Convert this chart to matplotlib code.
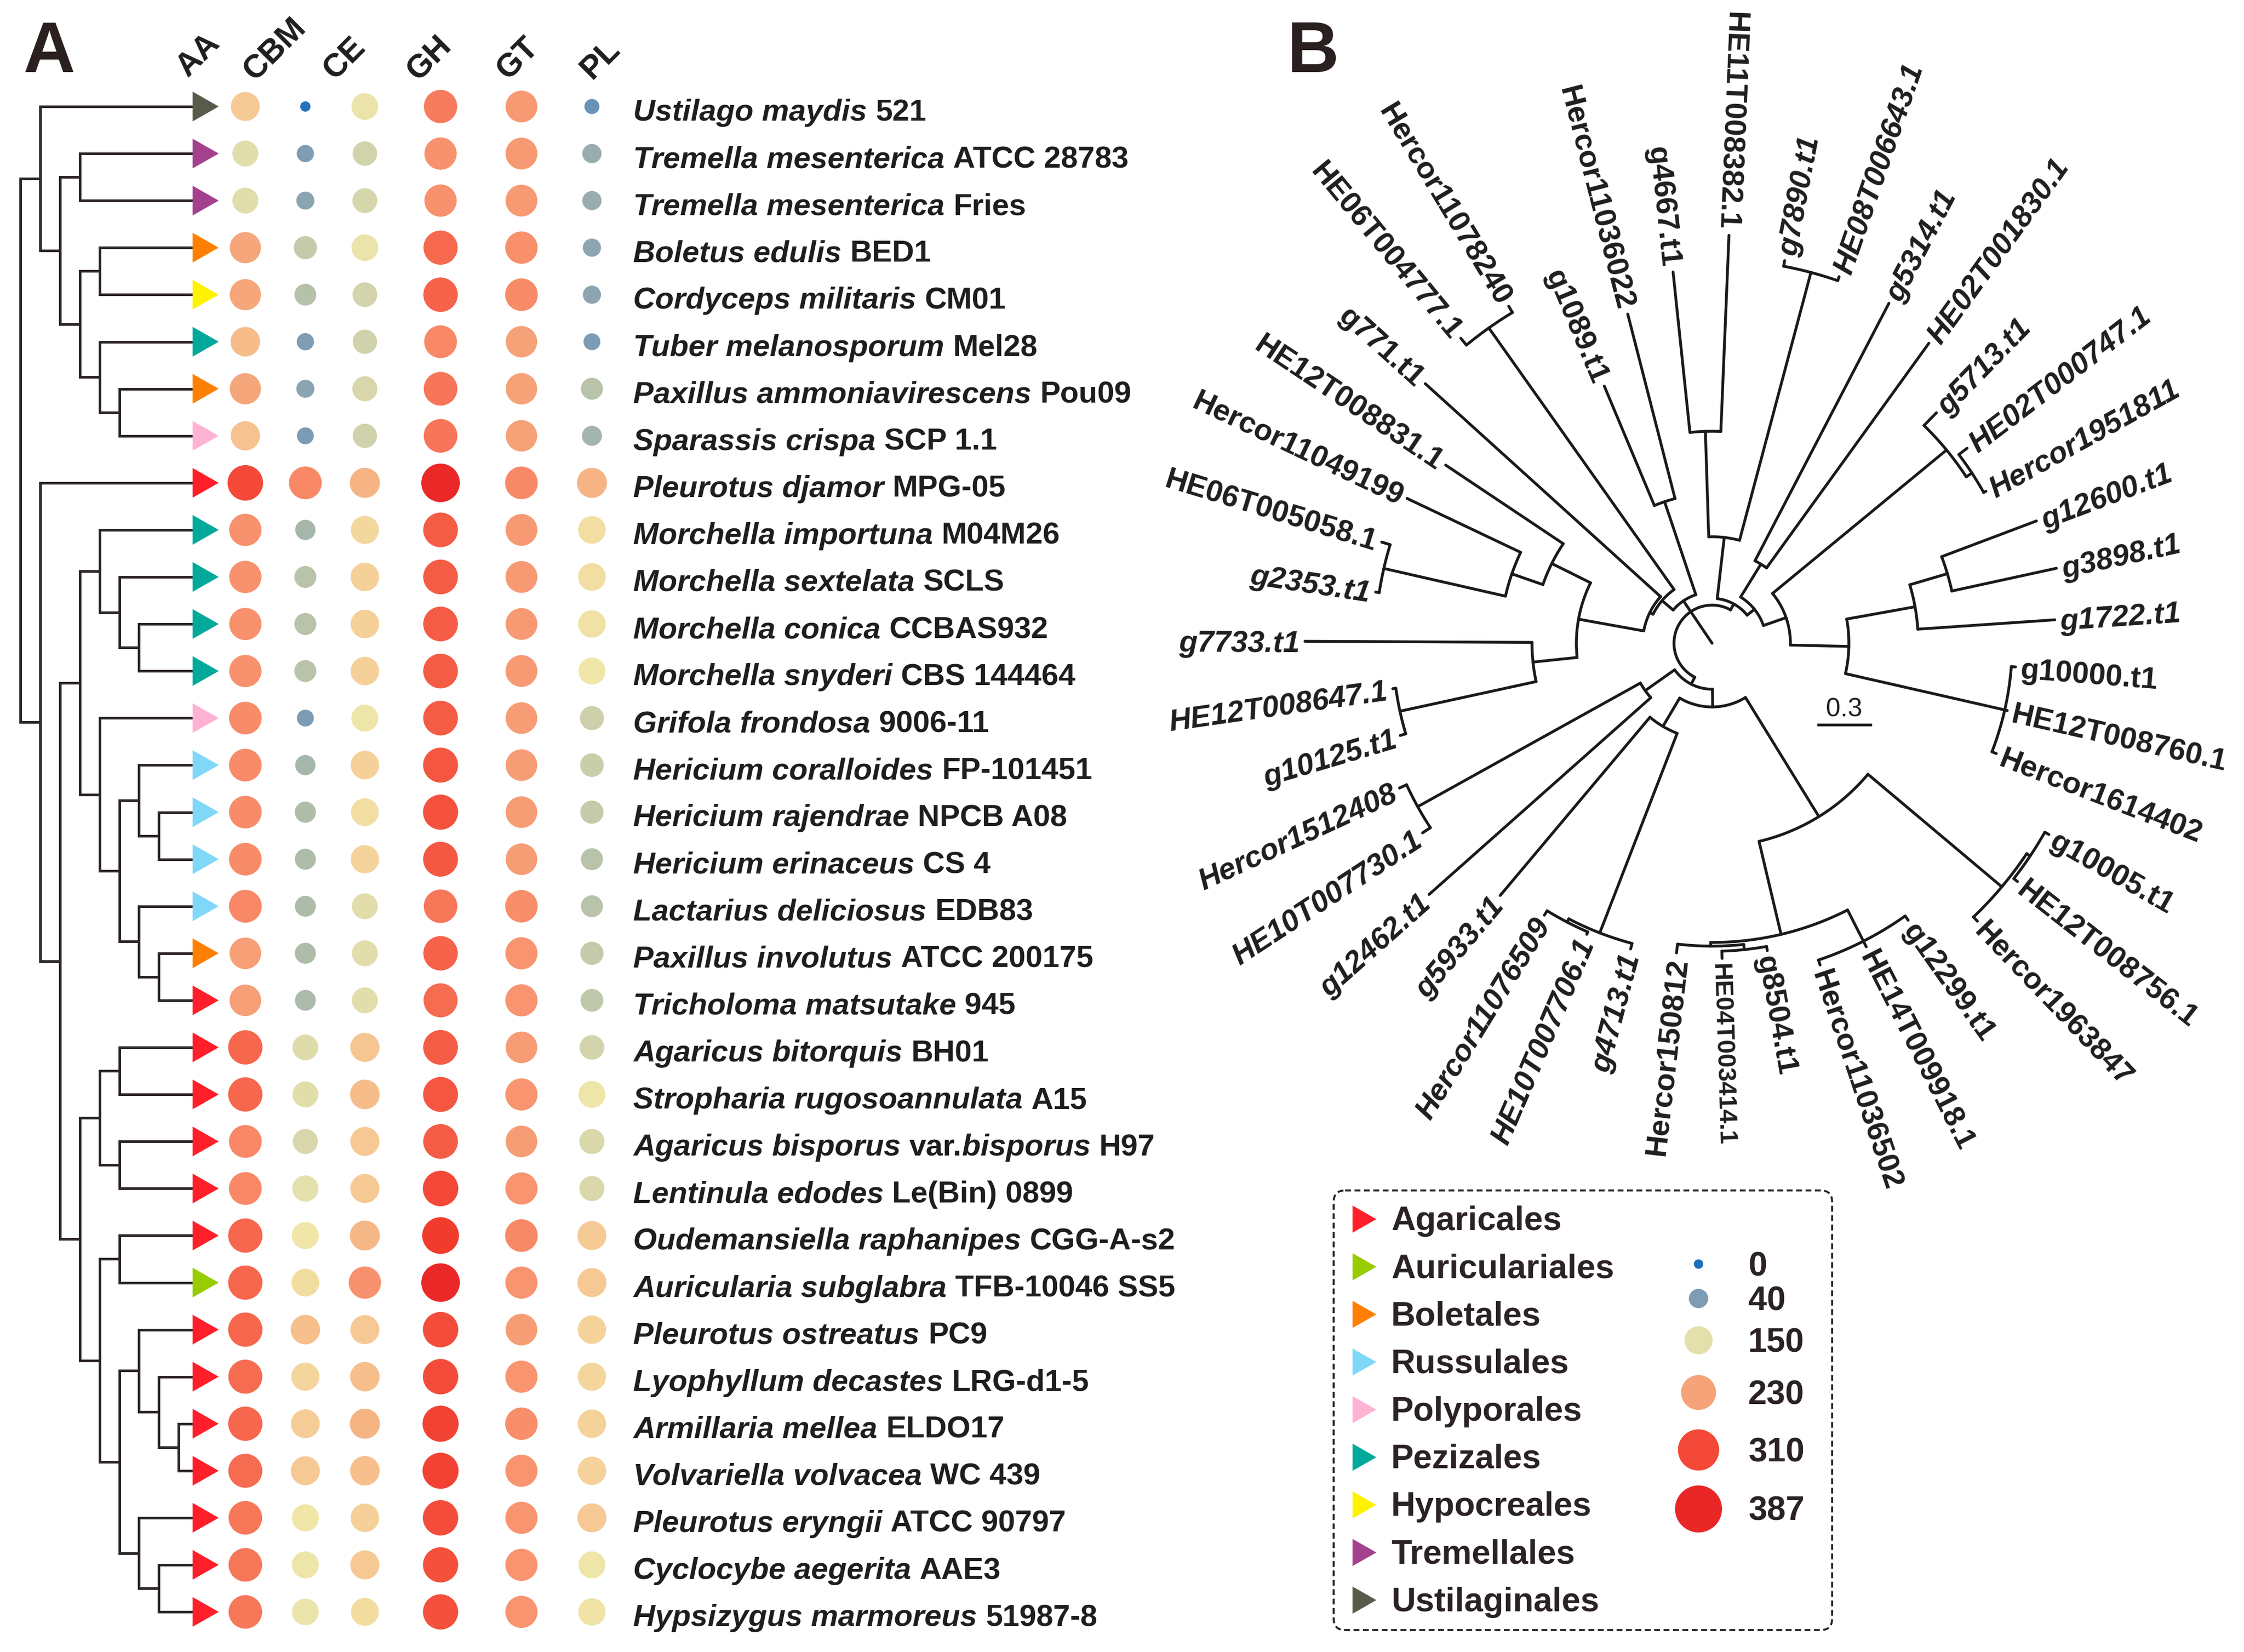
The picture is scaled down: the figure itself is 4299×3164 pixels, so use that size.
import numpy as np
import matplotlib
matplotlib.use('Agg')
import matplotlib.pyplot as plt
from matplotlib.colors import LinearSegmentedColormap
from matplotlib.patches import FancyBboxPatch

plt.rcParams['font.family'] = ['Liberation Sans', 'DejaVu Sans']

W, H, DPI = 4299, 3164, 300
PT = 72.0 / DPI

# ---------------- data: panel A ----------------
species = [
    "*Ustilago maydis* 521", "*Tremella mesenterica* ATCC 28783", "*Tremella mesenterica* Fries",
    "*Boletus edulis* BED1", "*Cordyceps militaris* CM01", "*Tuber melanosporum* Mel28",
    "*Paxillus ammoniavirescens* Pou09", "*Sparassis crispa* SCP 1.1", "*Pleurotus djamor* MPG-05",
    "*Morchella importuna* M04M26", "*Morchella sextelata* SCLS", "*Morchella conica* CCBAS932",
    "*Morchella snyderi* CBS 144464", "*Grifola frondosa* 9006-11", "*Hericium coralloides* FP-101451",
    "*Hericium rajendrae* NPCB A08", "*Hericium erinaceus* CS 4", "*Lactarius deliciosus* EDB83",
    "*Paxillus involutus* ATCC 200175", "*Tricholoma matsutake* 945", "*Agaricus bitorquis* BH01",
    "*Stropharia rugosoannulata* A15", "*Agaricus bisporus* var.*bisporus* H97",
    "*Lentinula edodes* Le(Bin) 0899", "*Oudemansiella raphanipes* CGG-A-s2",
    "*Auricularia subglabra* TFB-10046 SS5", "*Pleurotus ostreatus* PC9",
    "*Lyophyllum decastes* LRG-d1-5", "*Armillaria mellea* ELDO17", "*Volvariella volvacea* WC 439",
    "*Pleurotus eryngii* ATCC 90797", "*Cyclocybe aegerita* AAE3", "*Hypsizygus marmoreus* 51987-8",
]
orders = (["Ustilaginales", "Tremellales", "Tremellales", "Boletales", "Hypocreales", "Pezizales",
           "Boletales", "Polyporales", "Agaricales", "Pezizales", "Pezizales", "Pezizales", "Pezizales",
           "Polyporales", "Russulales", "Russulales", "Russulales", "Russulales", "Boletales",
           "Agaricales", "Agaricales", "Agaricales", "Agaricales", "Agaricales", "Agaricales",
           "Auriculariales"] + ["Agaricales"] * 7)

columns = ["AA", "CBM", "CE", "GH", "GT", "PL"]
AA = [195, 148, 148, 228, 228, 205, 228, 200, 310, 248, 248, 248, 248, 255, 255, 255, 255, 258, 235, 235,
      287, 287, 258, 258, 287, 287, 287, 282, 287, 282, 273, 273, 273]
CBM = [2, 40, 50, 115, 98, 40, 50, 38, 258, 78, 100, 100, 100, 38, 78, 90, 88, 87, 88, 85,
       145, 148, 137, 152, 165, 176, 203, 183, 193, 196, 165, 163, 160]
CE = [160, 130, 135, 160, 133, 128, 137, 128, 212, 182, 188, 188, 188, 163, 188, 175, 185, 148, 148, 148,
      198, 205, 196, 196, 210, 248, 196, 203, 212, 203, 188, 196, 178]
GH = [268, 248, 248, 285, 290, 258, 275, 275, 385, 295, 295, 295, 295, 295, 300, 303, 298, 273, 290, 282,
      295, 300, 295, 310, 340, 385, 308, 308, 325, 325, 308, 305, 305]
GT = [240, 240, 240, 250, 255, 232, 232, 232, 256, 240, 240, 240, 240, 236, 236, 236, 236, 252, 246, 246,
      236, 246, 236, 246, 256, 246, 236, 246, 252, 246, 246, 246, 246]
PL = [28, 65, 65, 52, 52, 38, 100, 75, 212, 175, 175, 172, 165, 125, 120, 115, 100, 100, 115, 110,
      132, 163, 138, 138, 195, 196, 186, 183, 186, 186, 196, 163, 170]
values = [AA, CBM, CE, GH, GT, PL]

# cladogram topology (leaf indices)
tree_A = [[0, [[1, 2], [[3, 4], [5, [6, 7]]]]],
          [8, [[[9, [10, [11, 12]]], [13, [[14, [15, 16]], [17, [18, 19]]]]],
               [[[20, 21], [22, 23]], [[24, 25], [[26, [27, [28, 29]]], [30, [31, 32]]]]]]]]

order_names = ["Agaricales", "Auriculariales", "Boletales", "Russulales", "Polyporales",
               "Pezizales", "Hypocreales", "Tremellales", "Ustilaginales"]
order_colors = ["#FF1F2B", "#99CC00", "#FF8000", "#80D8F8", "#FFB3D4",
                "#00A99A", "#FFF200", "#A4418E", "#595A4A"]
legend_values = [0, 40, 150, 230, 310, 387]

# ---------------- data: panel B ----------------
leaf_names_B = [
    "g10005.t1", "HE12T008756.1", "Hercor1963847", "g12299.t1", "HE14T009918.1", "Hercor11036502",
    "g8504.t1", "HE04T003414.1", "Hercor150812", "g4713.t1", "HE10T007706.1", "Hercor11076509",
    "g5933.t1", "g12462.t1", "HE10T007730.1", "Hercor1512408", "g10125.t1", "HE12T008647.1",
    "g7733.t1", "g2353.t1", "HE06T005058.1", "Hercor11049199", "HE12T008831.1", "g771.t1",
    "HE06T004777.1", "Hercor11078240", "g1089.t1", "Hercor11036022", "g4667.t1", "HE11T008382.1",
    "g7890.t1", "HE08T006643.1", "g5314.t1", "HE02T001830.1", "g5713.t1", "HE02T000747.1",
    "Hercor1951811", "g12600.t1", "g3898.t1", "g1722.t1", "g10000.t1", "HE12T008760.1",
    "Hercor1614402",
]
tip_r_B = [742, 742, 736, 650, 652, 650, 598, 604, 597, 606, 607, 612, 631, 725, 663, 660,
           623, 618, 780, 652, 662, 647, 614, 741, 757, 754, 534, 651,
           715, 782, 746, 743, 734, 709, 616, 615, 600, 664, 675, 658, 583, 580, 584]
# nested: [node radius, child, child, ...]; ints are leaf indices
tree_B = [73,
          [88,
           [122,
            [390, [725, [733, 0, 1], 2], [573, [640, 3, 4, 5], [580, [590, 6, 7], 8]]],
            [185, [595, 9, [602, 10, 11]], 12]],
           [157, 13, [645, 14, 15]]],
          [98,
           [126,
            [133,
             [260, [345, [612, 16, 17], 18], [343, [406, [645, 19, 20], 21], 22]],
             23],
            [740, 24, 25]],
           [286, 26, 27]],
          [86,
           [204, [406, 28, 29], [735, 30, 31]],
           [104,
            [178, 32, 33],
            [150,
             [582, 34, [595, 35, 36]],
             [262, [395, [470, 37, 38], 39], [575, 40, 41, 42]]]]]]
italic_B = ["g7890.t1", "HE08T006643.1", "g5314.t1", "HE02T001830.1", "g5713.t1", "HE02T000747.1",
            "Hercor1951811", "g12600.t1", "g3898.t1", "g1722.t1", "g2353.t1", "g7733.t1",
            "HE12T008647.1", "g10125.t1", "Hercor1512408", "HE10T007730.1", "g12462.t1",
            "g5933.t1", "Hercor11076509", "HE10T007706.1", "g4713.t1"]
light_B = ["HE04T003414.1"]
scale_label = "0.3"

# ---------------- scales ----------------
cmap_vals = [0, 20, 40, 60, 85, 110, 135, 150, 165, 180, 195, 212, 230, 250, 270, 290, 310, 345, 387]
cmap_cols = ['#1F6FBF', '#5E8AB8', '#7F9DB4', '#97ABAE', '#ABBBA9', '#C0C8AA', '#D6D6AB', '#E4E0AC',
             '#F0E6A8', '#F3DA9F', '#F6C994', '#F6B484', '#F6A47A', '#F8906C', '#F77B5C', '#F6634A',
             '#F44A38', '#F0382B', '#E92727']
VMAX = 387.0
cmap = LinearSegmentedColormap.from_list('caz', list(zip(np.array(cmap_vals) / VMAX, cmap_cols)))


def dot_diam(v):
    return np.interp(v, [0, 40, 100, 150, 200, 230, 270, 310, 387], [19, 33, 42, 50, 56, 60, 64, 68, 74])


def legend_diam(v):
    return np.interp(v, [0, 40, 150, 230, 310, 387], [18, 37, 54, 67, 79, 90])


fig = plt.figure(figsize=(W / DPI, H / DPI), dpi=DPI)
fig.patch.set_facecolor('white')
ax = fig.add_axes([0, 0, 1, 1])
ax.set_xlim(0, W)
ax.set_ylim(H, 0)
ax.axis('off')
renderer = fig.canvas.get_renderer()

TXT = '#1E1E1E'
tri = [(-0.877, -1.0), (0.877, 0.0), (-0.877, 1.0), (-0.877, -1.0)]

# ---------------- panel A ----------------
n = len(species)
row_y = 204 + 90.1 * np.arange(n)
col_x = [470, 585, 699, 844, 999, 1134]
LEAF_X = 369
LW_A = 5.0 * PT
TREE_C = '#2D2626'


def drawA(node, depth):
    if isinstance(node, int):
        return row_y[node], LEAF_X
    x = 39 + 37.9 * depth
    ys = []
    for ch in node:
        cy_, cx_ = drawA(ch, depth + 1)
        ax.plot([x, cx_], [cy_, cy_], color=TREE_C, lw=LW_A, solid_capstyle='projecting')
        ys.append(cy_)
    ax.plot([x, x], [ys[0], ys[-1]], color=TREE_C, lw=LW_A, solid_capstyle='projecting')
    return 0.5 * (ys[0] + ys[-1]), x


drawA(tree_A, 0)

ocol = dict(zip(order_names, order_colors))
ax.scatter([394] * n, row_y, s=(57 * PT) ** 2, marker=tri, c=[ocol[o] for o in orders],
           linewidths=0, zorder=3)

for j, vals in enumerate(values):
    v = np.array(vals, float)
    ax.scatter([col_x[j]] * n, row_y, s=(dot_diam(v) * PT) ** 2, c=cmap(v / VMAX),
               linewidths=0, zorder=3)

header_pos = [(380, 105), (527, 95), (660, 112), (822, 112), (992, 112), (1150, 113)]
for name, (hx, hy) in zip(columns, header_pos):
    ax.text(hx, hy, name, rotation=45, ha='center', va='center', fontsize=15,
            fontweight='bold', color=TXT)

SP_FS = 14.0


def twidth(s, **kw):
    t = ax.text(0, 0, s, **kw)
    w = t.get_window_extent(renderer).width
    t.remove()
    return w


space_w = twidth('a a', fontsize=SP_FS, fontweight='bold') - twidth('aa', fontsize=SP_FS, fontweight='bold')


def draw_rich(x, y, markup):
    parts = markup.split('*')
    for i, p in enumerate(parts):
        if not p:
            continue
        style = 'italic' if i % 2 == 1 else 'normal'
        lead = len(p) - len(p.lstrip(' '))
        trail = len(p) - len(p.rstrip(' '))
        core = p.strip(' ')
        x += lead * space_w
        if core:
            t = ax.text(x, y, core, fontsize=SP_FS, fontweight='bold', fontstyle=style,
                        ha='left', va='baseline', color=TXT)
            x += t.get_window_extent(renderer).width
        x += trail * space_w


for i, lab in enumerate(species):
    draw_rich(1213, row_y[i] + 27, lab)

ax.text(45, 138, 'A', fontsize=33, fontweight='bold', color='#2B2020', ha='left', va='baseline')
ax.text(2466, 138, 'B', fontsize=33, fontweight='bold', color='#2B2020', ha='left', va='baseline')

# ---------------- panel B ----------------
CX, CY = 3280, 1232
theta = -29.58 - 8.372 * np.arange(len(leaf_names_B))
LW_B = 5.4 * PT
TB_C = '#1A1A1A'
node_angle = {}


def layoutB(node):
    if isinstance(node, int):
        return theta[node]
    angs = [layoutB(c) for c in node[1:]]
    a = 0.5 * (angs[0] + angs[-1])
    node_angle[id(node)] = a
    return a


def pol(r, a):
    a = np.radians(a)
    return CX + r * np.cos(a), CY - r * np.sin(a)


def radial(r0, r1, a):
    x0, y0 = pol(r0, a)
    x1, y1 = pol(r1, a)
    ax.plot([x0, x1], [y0, y1], color=TB_C, lw=LW_B, solid_capstyle='round')


def arc(r, a0, a1):
    t = np.linspace(a0, a1, max(2, int(abs(a1 - a0) * 3)))
    xs, ys = pol(r, t)
    ax.plot(xs, ys, color=TB_C, lw=LW_B, solid_capstyle='round')


def ang_of(c):
    return theta[c] if isinstance(c, int) else node_angle[id(c)]


def drawB(node, parent_r):
    if isinstance(node, int):
        radial(parent_r, tip_r_B[node], theta[node])
        return
    r = node[0]
    a = node_angle[id(node)]
    if parent_r is not None:
        radial(parent_r, r, a)
    angs = [ang_of(c) for c in node[1:]]
    arc(r, angs[0], angs[-1])
    for c in node[1:]:
        drawB(c, r)


layoutB(tree_B)
drawB(tree_B, None)
radial(0, tree_B[0], node_angle[id(tree_B[2])])

for k, name in enumerate(leaf_names_B):
    a = theta[k]
    an = (a + 180) % 360 - 180
    left = an > 85 or an < -92
    if an > 85:
        rot = an - 180
    elif left:
        rot = an + 180
    else:
        rot = an
    x, y = pol(tip_r_B[k] + 10, a)
    light = name in light_B
    ax.text(x, y, name, rotation=rot, rotation_mode='anchor', ha='right' if left else 'left',
            va='center_baseline', fontsize=11.5 if light else 13.9,
            fontweight='bold',
            fontstyle='italic' if name in italic_B else 'normal', color=TXT)

ax.plot([3481, 3586], [1388, 1388], color=TB_C, lw=LW_B, solid_capstyle='butt')
ax.text(3533, 1372, scale_label, ha='center', va='baseline', fontsize=12, color=TXT)

# ---------------- legend ----------------
box = FancyBboxPatch((2555, 2280), 955, 842, boxstyle='round,pad=0,rounding_size=22',
                     fill=False, edgecolor='#222222', lw=0.9, linestyle=(0, (3.0, 1.8)))
ax.add_patch(box)
leg_y = 2335 + 91.2 * np.arange(len(order_names))
ax.scatter([2614] * len(order_names), leg_y, s=(52 * PT) ** 2, marker=tri, c=order_colors,
           linewidths=0, zorder=3)
for yy, nm in zip(leg_y, order_names):
    ax.text(2665, yy + 21, nm, fontsize=15.5, fontweight='bold', color='#2B2323',
            ha='left', va='baseline')

lv = np.array(legend_values, float)
size_y = [2421, 2487, 2567, 2667, 2777, 2890]
ax.scatter([3254] * len(lv), size_y, s=(legend_diam(lv) * PT) ** 2, c=cmap(lv / VMAX),
           linewidths=0, zorder=3)
for yy, v in zip(size_y, legend_values):
    ax.text(3349, yy + 22, str(v), fontsize=15.5, fontweight='bold', color='#2B2323',
            ha='left', va='baseline')

fig.savefig('out.png', dpi=DPI)
